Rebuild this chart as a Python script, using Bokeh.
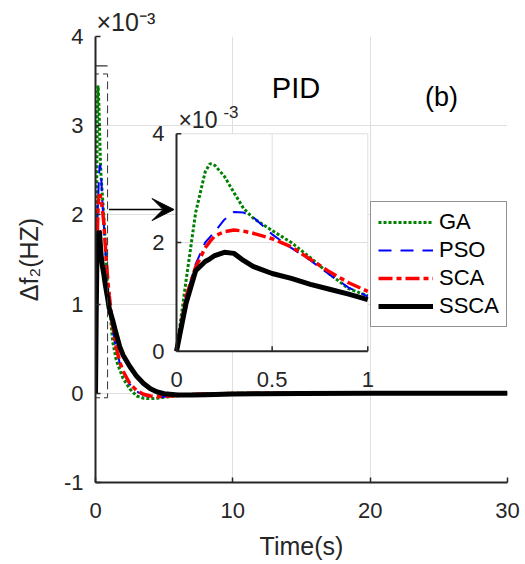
from bokeh.plotting import figure
from bokeh.models import (Range1d, FixedTicker, Legend, LegendItem, Label, Arrow, VeeHead)
from bokeh.core.properties import value
from bokeh.embed import file_html
from bokeh.resources import INLINE

# ---------------- data (values in units of 1e-3 Hz) ----------------
time_s = [0, 0.05, 0.1, 0.15, 0.175, 0.2, 0.25, 0.3, 0.35, 0.4, 0.5, 0.6, 0.7, 0.8, 0.9, 1.0,
          1.25, 1.5, 1.75, 2.0, 2.5, 3.0, 3.5, 4.0, 4.5, 5.0, 6.0, 7.0, 8.0, 10, 12, 15, 20, 25, 30]
ga = [0, 1.3, 2.55, 3.3, 3.45, 3.42, 3.22, 2.92, 2.63, 2.45, 2.22, 2.0, 1.72, 1.42, 1.15, 1.02,
      0.58, 0.38, 0.27, 0.17, 0.05, -0.03, -0.055, -0.06, -0.055, -0.045, -0.025, -0.012, -0.005, 0, 0, 0, 0, 0, 0]
pso = [0, 1.0, 1.6, 2.0, 2.1, 2.2, 2.42, 2.56, 2.55, 2.47, 2.15, 1.9, 1.67, 1.41, 1.17, 1.01,
       0.72, 0.5, 0.35, 0.24, 0.1, 0.02, -0.02, -0.04, -0.045, -0.04, -0.028, -0.015, -0.007, -0.002, 0, 0, 0, 0, 0]
sca = [0, 1.0, 1.55, 1.9, 2.02, 2.12, 2.2, 2.23, 2.21, 2.17, 2.07, 1.92, 1.69, 1.46, 1.26, 1.1,
       0.76, 0.52, 0.36, 0.25, 0.11, 0.03, -0.01, -0.03, -0.04, -0.035, -0.025, -0.015, -0.008, -0.002, 0, 0, 0, 0, 0]
ssca = [0, 0.88, 1.48, 1.65, 1.7, 1.76, 1.82, 1.8, 1.67, 1.56, 1.43, 1.34, 1.23, 1.14, 1.05, 0.95,
        0.82, 0.67, 0.53, 0.43, 0.3, 0.19, 0.11, 0.05, 0.015, -0.005, -0.02, -0.02, -0.015, -0.008, -0.004, -0.001, 0, 0, 0]

series_names = ["GA", "PSO", "SCA", "SSCA"]
series_values = [ga, pso, sca, ssca]
series_colors = ["#008000", "#0000ff", "#ff0000", "#000000"]
series_widths = [3, 2, 3.5, 5]
series_dashes = ["3 2", "13 9", "14 4 5 4", "solid"]

x_ticks = [0, 10, 20, 30]
y_ticks = [-1, 0, 1, 2, 3, 4]
inset_x_ticks = [0, 0.5, 1]
inset_x_labels = ["0", "0.5", "1"]
inset_y_ticks = [0, 2, 4]
inset_y_labels = ["0", "2", "4"]
inset_t_max = 1.0

FONT = "Liberation Sans"
AX = "#262626"
GRID = "#dfdfdf"

p = figure(width=525, height=564, x_range=Range1d(0, 30), y_range=Range1d(-1, 4),
           output_backend="svg", toolbar_location=None,
           min_border_left=95, min_border_right=18, min_border_top=36, min_border_bottom=82)
p.outline_line_color = None
p.background_fill_color = "white"
p.border_fill_color = "white"

# exponent of the main y axis, shown above the frame
p.title.text = "×10⁻³"
p.title.align = "left"
p.title.offset = 1
p.title.standoff = 2
p.title.text_font = FONT
p.title.text_font_size = "25px"
p.title.text_font_style = "normal"
p.title.text_color = AX

p.xaxis.ticker = FixedTicker(ticks=x_ticks)
p.yaxis.ticker = FixedTicker(ticks=y_ticks)
p.yaxis.major_label_overrides = {t: str(t) for t in y_ticks}
for ax in (p.xaxis[0], p.yaxis[0]):
    ax.axis_line_color = AX
    ax.axis_line_width = 2
    ax.major_tick_line_color = AX
    ax.major_tick_line_width = 1.5
    ax.major_tick_in = 5
    ax.major_tick_out = 0
    ax.minor_tick_line_color = None
    ax.major_label_text_font = FONT
    ax.major_label_text_font_size = "22px"
    ax.major_label_text_color = AX
    ax.axis_label_text_font = FONT
    ax.axis_label_text_font_size = "25px"
    ax.axis_label_text_font_style = "normal"
    ax.axis_label_text_color = AX
p.xaxis.axis_label = "Time(s)"
p.yaxis.axis_label = "Δf₂(HZ)"
p.xaxis.major_label_standoff = 20
p.yaxis.major_label_standoff = 12
p.xaxis.axis_label_standoff = 11
p.yaxis.axis_label_standoff = 18
p.grid.grid_line_color = GRID
p.grid.grid_line_width = 1

# inset ranges (inset box placed inside the main frame)
p.extra_x_ranges = {"ix": Range1d(-0.4234, 1.7303)}
p.extra_y_ranges = {"iy": Range1d(-2.4158, 5.7903)}

# main curves
renderers = []
for name, vals, col, w, d in zip(series_names, series_values, series_colors, series_widths, series_dashes):
    r = p.line(time_s, vals, line_color=col, line_width=w, line_dash=d)
    renderers.append(r)

# zoom rectangle
rect_l, rect_r, rect_b, rect_t = -0.33, 0.88, -0.05, 3.58
p.quad(left=[rect_l], right=[rect_r], bottom=[rect_b], top=[rect_t], fill_alpha=0,
       line_color="#333333", line_width=1, line_dash="8 4")
p.segment(x0=[-0.2], x1=[0.88], y0=[3.67], y1=[3.67], line_color="#333333", line_width=1.2)

# inset
n_in = time_s.index(inset_t_max) + 1
p.quad(left=[inset_x_ticks[0]], right=[inset_x_ticks[-1]], bottom=[inset_y_ticks[0]], top=[inset_y_ticks[-1]],
       fill_color="white", line_color=None, x_range_name="ix", y_range_name="iy")
gx = inset_x_ticks[1:]
p.segment(x0=gx, x1=gx, y0=[inset_y_ticks[0]] * len(gx), y1=[inset_y_ticks[-1]] * len(gx),
          line_color=GRID, line_width=1, x_range_name="ix", y_range_name="iy")
gy = inset_y_ticks[1:]
p.segment(x0=[inset_x_ticks[0]] * len(gy), x1=[inset_x_ticks[-1]] * len(gy), y0=gy, y1=gy,
          line_color=GRID, line_width=1, x_range_name="ix", y_range_name="iy")
for vals, col, w, d in zip(series_values, series_colors, series_widths, series_dashes):
    p.line(time_s[:n_in], vals[:n_in], line_color=col, line_width=w, line_dash=d,
           x_range_name="ix", y_range_name="iy")
# inset axes lines and ticks
p.segment(x0=[0, 0], x1=[0, inset_x_ticks[-1]], y0=[0, 0], y1=[inset_y_ticks[-1], 0],
          line_color=AX, line_width=2, x_range_name="ix", y_range_name="iy")
p.segment(x0=gx, x1=gx, y0=[0] * len(gx), y1=[0.09] * len(gx),
          line_color=AX, line_width=1.5, x_range_name="ix", y_range_name="iy")
p.segment(x0=[0] * len(gy), x1=[0.025] * len(gy), y0=gy, y1=gy,
          line_color=AX, line_width=1.5, x_range_name="ix", y_range_name="iy")
p.text(x=[0] * len(inset_y_ticks), y=inset_y_ticks, text=inset_y_labels, x_offset=-12,
       text_align="right", text_baseline="middle", text_font=value(FONT), text_font_size="22px",
       text_color=AX, x_range_name="ix", y_range_name="iy")
p.text(x=inset_x_ticks, y=[0] * len(inset_x_ticks), text=inset_x_labels, y_offset=28,
       text_align="center", text_baseline="middle", text_font=value(FONT), text_font_size="22px",
       text_color=AX, x_range_name="ix", y_range_name="iy")

# inset exponent label
p.add_layout(Label(x=0.01, y=4.26, text="×10", text_font=FONT, text_font_size="23px",
                   text_color=AX, text_baseline="alphabetic", x_range_name="ix", y_range_name="iy"))
p.add_layout(Label(x=0.01, y=4.26, x_offset=45, y_offset=8, text="-3", text_font=FONT,
                   text_font_size="17px", text_color=AX, text_baseline="alphabetic",
                   x_range_name="ix", y_range_name="iy"))

# titles
p.add_layout(Label(x=14.6, y=3.42, text="PID", text_font=FONT, text_font_size="29px",
                   text_color="black", text_align="center", text_baseline="alphabetic"))
p.add_layout(Label(x=25.2, y=3.32, text="(b)", text_font=FONT, text_font_size="27px",
                   text_color="black", text_align="center", text_baseline="alphabetic"))

# arrow
p.add_layout(Arrow(end=VeeHead(size=22, fill_color="black", line_color="black", line_width=1),
                   x_start=0.98, y_start=2.06, x_end=5.72, y_end=2.06,
                   line_color="black", line_width=1.5))

legend = Legend(items=[LegendItem(label=n, renderers=[r]) for n, r in zip(series_names, renderers)],
                location=(275, 155), label_text_font=FONT, label_text_font_size="22px",
                label_text_color="black", glyph_width=55, glyph_height=20, label_height=20,
                spacing=2, padding=7, label_standoff=6, margin=0,
                border_line_color=AX, border_line_width=1,
                background_fill_color="white", background_fill_alpha=1)
p.add_layout(legend)

open("out.html", "w").write(file_html(p, INLINE))
